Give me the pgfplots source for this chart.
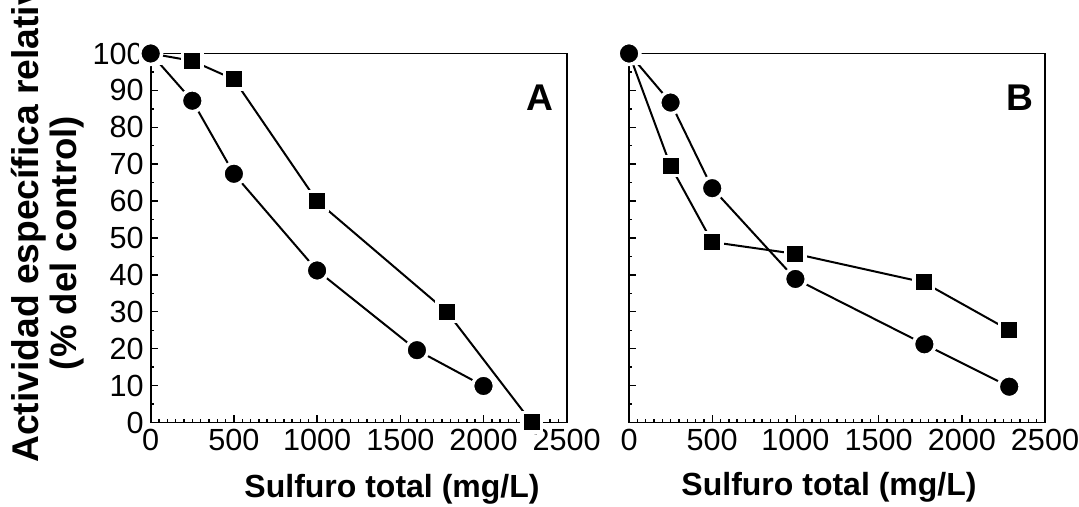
\documentclass[border=0pt]{standalone}
\usepackage{pgfplots}
\pgfplotsset{compat=1.18}
\usepackage{pgfplotstable}
\usepackage{fontspec}
\setmainfont{Liberation Sans}

% panel A
\pgfplotstableread{
x y
0 100
250 98
500 93
1000 60
1780 30
2290 0
}\Asq
\pgfplotstableread{
x y
0 100
250 87.2
500 67.4
1000 41.2
1600 19.6
2000 9.9
}\Aci
% panel B
\pgfplotstableread{
x y
0 100
250 69.5
500 48.9
1000 45.7
1770 38
2285 25
}\Bsq
\pgfplotstableread{
x y
0 100
250 86.7
500 63.5
1000 38.9
1775 21.2
2285 9.7
}\Bci

\pgfplotsset{
  panel/.style={
    scale only axis, width=208pt, height=184.5pt, anchor=south west,
    xmin=0, xmax=2500, ymin=0, ymax=100,
    xtick={0,500,...,2500}, ytick={0,10,...,100},
    minor x tick num=9, minor y tick num=1,
    tick align=inside, xtick pos=bottom, ytick pos=left,
    major tick length=3.5pt, minor tick length=1.5pt,
    tick style={black, line width=0.7pt},
    axis line style={line width=0.8pt},
    tick label style={font=\fontsize{15.3}{17}\selectfont},
    /pgf/number format/assume math mode=true,
    /pgf/number format/1000 sep={},
    clip=false, axis on top,
  },
  frame/.style={
    scale only axis, width=208pt, height=184.5pt, anchor=south west,
    xmin=0, xmax=2500, ymin=0, ymax=100,
    xtick=\empty, ytick=\empty,
    minor xtick={0,50,...,2500}, minor ytick={0,5,...,100},
    xtick pos=top, ytick pos=right, tick align=inside,
    minor tick length=1.5pt, tick style={black, line width=0.7pt},
    axis line style={draw=none},
  },
  ln/.style={black, line width=1pt, mark=none},
  sq/.style={only marks, mark=square*, mark size=4.85pt,
    mark options={fill=black, draw=white, line width=1.7pt}},
  ci/.style={only marks, mark=*, mark size=5.45pt,
    mark options={fill=black, draw=white, line width=1.7pt}},
}

\begin{document}
\begin{tikzpicture}
\useasboundingbox (0,0) rectangle (539.5pt,253.5pt);
\clip (0,0) rectangle (539.5pt,253.5pt);

\begin{axis}[frame, at={(75.35pt,42.25pt)}]
\end{axis}
\begin{axis}[panel, at={(75.35pt,42.25pt)}]
  \addplot[ln] table {\Asq};
  \addplot[ln] table {\Aci};
  \addplot[sq] table {\Asq};
  \addplot[ci] table {\Aci};
  \node[font=\bfseries\fontsize{18.6}{20}\selectfont] at (axis cs:2340,88) {A};
\end{axis}

\begin{axis}[frame, at={(314.5pt,42.25pt)}]
\end{axis}
\begin{axis}[panel, at={(314.5pt,42.25pt)}, yticklabels={}]
  \addplot[ln] table {\Bsq};
  \addplot[ln] table {\Bci};
  \addplot[sq] table {\Bsq};
  \addplot[ci] table {\Bci};
  \node[font=\bfseries\fontsize{18.6}{20}\selectfont] at (axis cs:2350,88) {B};
\end{axis}

\node[rotate=90, anchor=base west, inner sep=0,
  font=\bfseries\fontsize{18.6}{21}\selectfont] at (19.4pt,22pt)
  {Actividad específica relativa};
\node[rotate=90, anchor=center, inner sep=0,
  font=\bfseries\fontsize{18.3}{21}\selectfont] at (33.5pt,132pt)
  {(\% del control)};
\node[inner sep=0, font=\bfseries\fontsize{16}{18}\selectfont]
  at (196pt,9pt) {Sulfuro total (mg/L)};
\node[inner sep=0, font=\bfseries\fontsize{16}{18}\selectfont]
  at (414.5pt,10pt) {Sulfuro total (mg/L)};
\end{tikzpicture}
\end{document}
